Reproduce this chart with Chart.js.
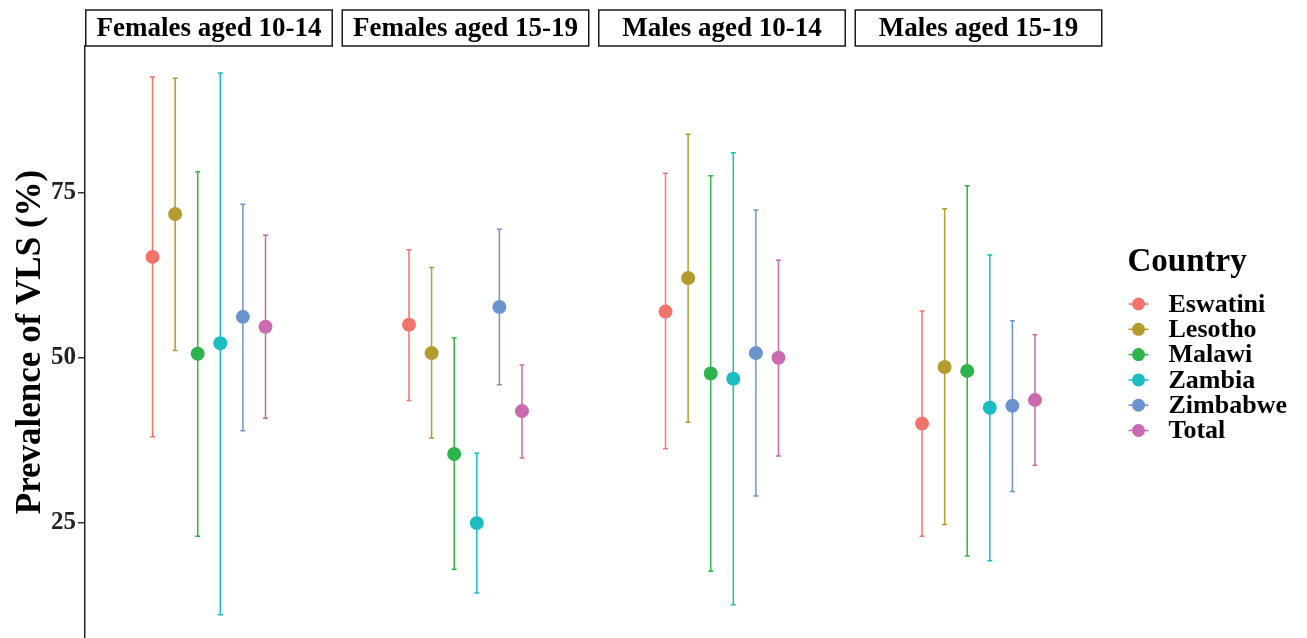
<!DOCTYPE html>
<html>
<head>
<meta charset="utf-8">
<title>Prevalence of VLS</title>
<script src="https://cdn.jsdelivr.net/npm/chart.js@4.4.0/dist/chart.umd.min.js"></script>
<style>
    html, body { margin: 0; padding: 0; background: #fff; overflow: hidden; }
    #vls-chart { display: block; width: 1307px; height: 638px; }
</style>
</head>
<body>
<canvas id="vls-chart" width="1307" height="638"></canvas>
<script>
(function () {
    "use strict";

    const facets = ["Females aged 10-14", "Females aged 15-19", "Males aged 10-14", "Males aged 15-19"];
    const countries = ["Eswatini", "Lesotho", "Malawi", "Zambia", "Zimbabwe", "Total"];
    const colors = ["#F2736A", "#B39B2F", "#2DB34C", "#19BDC2", "#6B93CE", "#C96BAE"];
    const yTicks = [25, 50, 75];

    // estimate, lower and upper limit, one value per facet
    const eswatiniMid = [65.3, 55.0, 57.0, 40.0];
    const eswatiniLow = [38.0, 43.5, 36.2, 22.9];
    const eswatiniHigh = [92.6, 66.4, 78.0, 57.1];

    const lesothoMid = [71.8, 50.7, 62.1, 48.6];
    const lesothoLow = [51.1, 37.8, 40.2, 24.7];
    const lesothoHigh = [92.4, 63.7, 83.9, 72.6];

    const malawiMid = [50.6, 35.4, 47.6, 48.0];
    const malawiLow = [22.9, 17.9, 17.6, 19.9];
    const malawiHigh = [78.2, 53.0, 77.6, 76.1];

    const zambiaMid = [52.2, 24.9, 46.8, 42.4];
    const zambiaLow = [11.0, 14.3, 12.5, 19.2];
    const zambiaHigh = [93.2, 35.5, 81.1, 65.6];

    const zimbabweMid = [56.2, 57.7, 50.7, 42.7];
    const zimbabweLow = [38.9, 45.9, 29.0, 29.7];
    const zimbabweHigh = [73.3, 69.5, 72.4, 55.6];

    const totalMid = [54.7, 41.9, 50.0, 43.6];
    const totalLow = [40.8, 34.8, 35.1, 33.7];
    const totalHigh = [68.6, 48.9, 64.8, 53.5];

    const mids = [eswatiniMid, lesothoMid, malawiMid, zambiaMid, zimbabweMid, totalMid];
    const lows = [eswatiniLow, lesothoLow, malawiLow, zambiaLow, zimbabweLow, totalLow];
    const highs = [eswatiniHigh, lesothoHigh, malawiHigh, zambiaHigh, zimbabweHigh, totalHigh];

    const serif = "'Liberation Serif', 'Times New Roman', serif";
    const panelGap = 0.0343;   // space between facet panels, in panel widths
    const dodge = 0.0911;      // distance between countries inside a panel

    // x position: facet panel + dodge for the country
    const xPos = (f, c) => f * (1 + panelGap) + 0.5 + (c - (countries.length - 1) / 2) * dodge;

    const datasets = [];
    countries.forEach((name, c) => {
        datasets.push({
            type: "scatter",
            label: name,
            order: 0,
            data: facets.map((_, f) => ({ x: xPos(f, c), y: mids[c][f] })),
            backgroundColor: colors[c],
            borderColor: colors[c],
            borderWidth: 0,
            pointRadius: 7,
            pointHoverRadius: 7,
        });
    });
    countries.forEach((name, c) => {
        const pts = [];
        facets.forEach((_, f) => {
            pts.push({ x: xPos(f, c), y: lows[c][f] });
            pts.push({ x: xPos(f, c), y: highs[c][f] });
            pts.push({ x: xPos(f, c), y: null });
        });
        datasets.push({
            type: "line",
            label: name + " CI",
            order: 1,
            data: pts,
            borderColor: colors[c],
            borderWidth: 1.5,
            spanGaps: false,
            pointStyle: "line",
            pointRadius: 2.5,
            pointHoverRadius: 2.5,
            pointBorderWidth: 1.5,
            pointBorderColor: colors[c],
        });
    });

    // facet strips on top of the panels
    const stripPlugin = {
        id: "facetStrips",
        afterDraw(chart) {
            const { ctx, chartArea } = chart;
            const xs = chart.scales.x;
            const top = chartArea.top - 36;
            ctx.save();
            ctx.lineWidth = 1.5;
            ctx.strokeStyle = "#1a1a1a";
            ctx.fillStyle = "#000";
            ctx.font = "bold 27px " + serif;
            ctx.textAlign = "center";
            ctx.textBaseline = "middle";
            facets.forEach((label, f) => {
                const l = xs.getPixelForValue(f * (1 + panelGap));
                const r = xs.getPixelForValue(f * (1 + panelGap) + 1);
                ctx.strokeRect(l + 0.75, top, r - l - 1.5, 36);
                ctx.fillText(label, (l + r) / 2, top + 19);
            });
            ctx.restore();
        },
    };

    // ggplot style legend: point with a line through it
    const legendPlugin = {
        id: "countryLegend",
        afterDraw(chart) {
            const { ctx, chartArea } = chart;
            const x0 = chartArea.right + 25;
            ctx.save();
            ctx.fillStyle = "#000";
            ctx.textAlign = "left";
            ctx.textBaseline = "middle";
            ctx.font = "bold 33px " + serif;
            ctx.fillText("Country", x0, 262);
            ctx.font = "bold 26px " + serif;
            countries.forEach((name, c) => {
                const y = 304 + c * 25.3;
                ctx.strokeStyle = colors[c];
                ctx.lineWidth = 1.5;
                ctx.beginPath();
                ctx.moveTo(x0 + 1, y);
                ctx.lineTo(x0 + 21, y);
                ctx.stroke();
                ctx.fillStyle = colors[c];
                ctx.beginPath();
                ctx.arc(x0 + 11, y, 6.5, 0, Math.PI * 2);
                ctx.fill();
                ctx.fillStyle = "#000";
                ctx.fillText(name, x0 + 41, y + 1);
            });
            ctx.restore();
        },
    };

    const ctx = document.getElementById("vls-chart").getContext("2d");
    new Chart(ctx, {
        type: "scatter",
        data: { datasets: datasets },
        plugins: [stripPlugin, legendPlugin],
        options: {
            responsive: false,
            maintainAspectRatio: false,
            animation: false,
            events: [],
            layout: {
                autoPadding: false,
                padding: { top: 46, right: 204.5, bottom: 0, left: 0 },
            },
            plugins: {
                legend: { display: false },
                tooltip: { enabled: false },
            },
            scales: {
                x: {
                    type: "linear",
                    display: false,
                    min: 0,
                    max: facets.length + (facets.length - 1) * panelGap,
                },
                y: {
                    type: "linear",
                    min: 7.47,
                    max: 97.3,
                    afterBuildTicks: (scale) => {
                        scale.ticks = yTicks.map((v) => ({ value: v }));
                    },
                    afterFit: (scale) => {
                        scale.width = 85;
                        scale.paddingTop = 0;
                        scale.paddingBottom = 0;
                    },
                    border: { display: true, color: "#222", width: 1.5 },
                    grid: {
                        drawOnChartArea: false,
                        drawTicks: true,
                        tickLength: 7,
                        color: "#333",
                        lineWidth: 1.5,
                    },
                    ticks: {
                        color: "#222",
                        padding: 2,
                        font: { family: serif, size: 25, weight: "bold" },
                    },
                    title: {
                        display: true,
                        text: "Prevalence of VLS (%)",
                        color: "#000",
                        padding: { top: 10, bottom: 0 },
                        font: { family: serif, size: 35, weight: "bold" },
                    },
                },
            },
        },
    });
})();
</script>
</body>
</html>
